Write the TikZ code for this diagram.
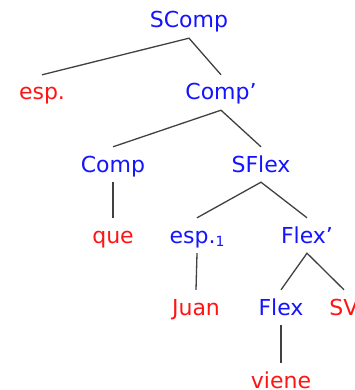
\documentclass[tikz,border=0pt]{standalone}
\usepackage{fontspec}
\setmainfont{DejaVu Sans}[Ligatures=ResetAll]
\definecolor{catblue}{RGB}{20,20,255}
\definecolor{wordred}{RGB}{255,20,20}
\definecolor{edgegray}{RGB}{64,64,64}
\begin{document}
\begin{tikzpicture}[x=1pt,y=-1pt,
  lbl/.style={anchor=base,inner sep=0pt,text height=25pt,text depth=10pt,font=\fontsize{22}{26}\selectfont},
  cat/.style={lbl,text=catblue},
  word/.style={lbl,text=wordred},
  edge/.style={draw=edgegray,line width=1.3pt}]
\useasboundingbox (0,0) rectangle (354,390);
\node[cat]  (scomp) at (189,28) {SComp};
\node[word] (esp)   at (42,100) {esp.};
\node[cat]  (compb) at (221,100) {Comp'};
\node[cat]  (comp)  at (113,172) {Comp};
\node[cat]  (sflex) at (261,172) {SFlex};
\node[word] (que)   at (113,243) {que};
\node[cat]  (espi)  at (197,243) {esp.\raisebox{-3pt}{\fontsize{14}{14}\selectfont 1}};
\node[cat]  (flexb) at (307,243) {Flex'};
\node[word] (juan)  at (196,315) {Juan};
\node[cat]  (flex)  at (281,315) {Flex};
\node[word] (sv)    at (344,315) {SV};
\node[word] (viene) at (281,388) {viene};
\draw[edge] (esp.north) -- (scomp.south) -- (compb.north);
\draw[edge] (comp.north) -- (compb.south) -- (sflex.north);
\draw[edge] (comp.south) -- (que.north);
\draw[edge] (espi.north) -- (sflex.south) -- (flexb.north);
\draw[edge] (espi.south) -- (juan.north);
\draw[edge] (flex.north) -- (flexb.south) -- (sv.north);
\draw[edge] (flex.south) -- (viene.north);
\end{tikzpicture}
\end{document}
